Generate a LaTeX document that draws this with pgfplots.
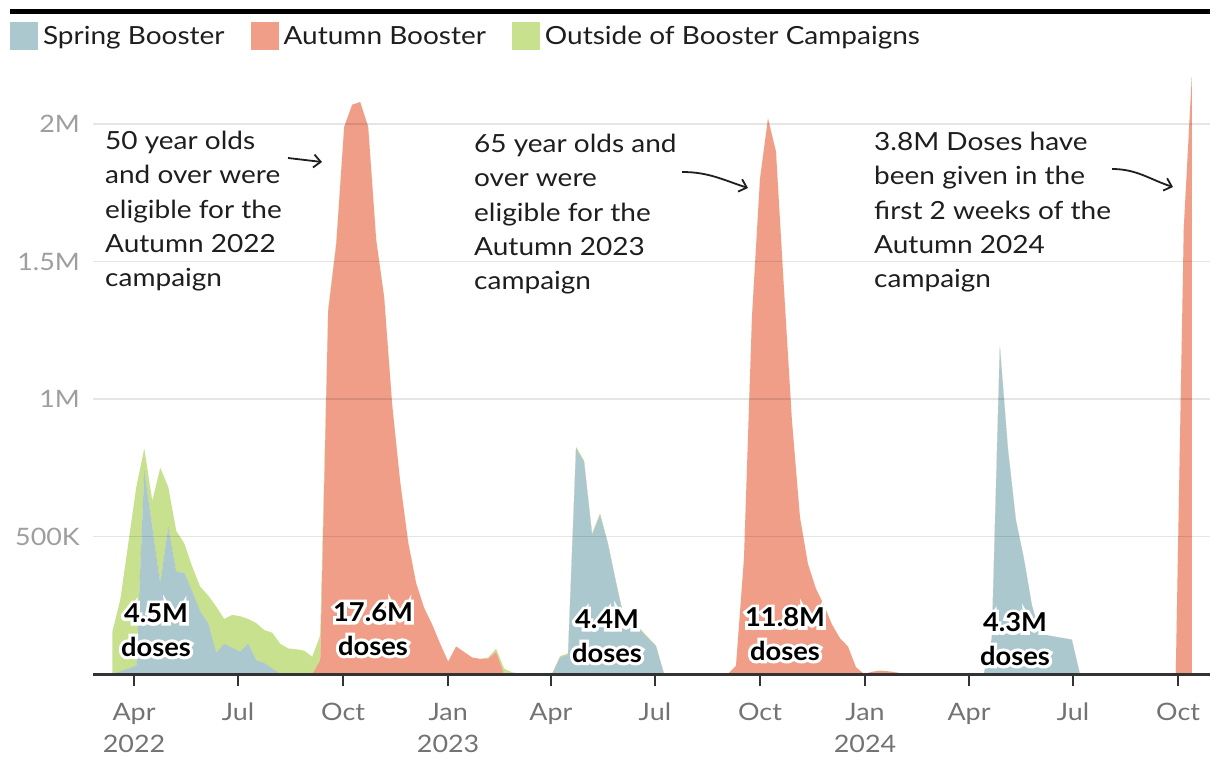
\documentclass[border=0pt]{standalone}
\usepackage{fontspec}
\setmainfont{Lato}[FakeStretch=1.12]
\newfontfamily\lblfont{Lato}[FakeStretch=1.05]
\newfontfamily\halofont{Lato}[FakeStretch=1.05, FakeBold=24]
\usepackage{pgfplots}
\pgfplotsset{compat=1.18}
\usepackage{pgfplotstable}
\usetikzlibrary{arrows.meta}

\definecolor{spring}{RGB}{171,200,207}
\definecolor{autumn}{RGB}{240,158,136}
\definecolor{outside}{RGB}{199,225,143}
\definecolor{txt}{RGB}{30,30,30}

% weekly doses in millions; d = days since 1 Apr 2022
\pgfplotstableread{
d sp au out
-19 0 0 0.153
-12 0.01 0 0.26
-5 0.02 0 0.455
2 0.03 0 0.65
9 0.74 0 0.08
16 0.535 0 0.095
23 0.33 0 0.42
30 0.536 0 0.144
37 0.372 0 0.148
44 0.368 0 0.107
51 0.30 0 0.09
58 0.227 0 0.09
65 0.184 0 0.101
72 0.077 0 0.168
79 0.11 0 0.09
86 0.095 0 0.12
93 0.081 0 0.129
100 0.11 0 0.09
107 0.05 0 0.135
114 0.04 0 0.12
121 0.02 0 0.13
128 0 0 0.11
135 0 0 0.093
142 0 0 0.09
149 0 0 0.085
156 0 0 0.063
163 0 0.05 0.09
170 0 1.32 0.01
177 0 1.56 0.01
184 0 1.99 0
191 0 2.07 0
198 0 2.08 0
205 0 1.99 0
212 0 1.58 0
219 0 1.37 0
226 0 0.98 0
233 0 0.70 0
240 0 0.48 0
247 0 0.33 0
254 0 0.24 0
261 0 0.18 0
268 0 0.11 0
275 0 0.045 0
282 0 0.10 0
289 0 0.08 0
296 0 0.06 0
303 0 0.055 0
310 0 0.055 0.005
317 0 0.08 0.012
324 0 0 0.02
331 0 0 0.006
338 0 0 0.002
345 0 0 0
352 0 0 0
359 0 0 0
366 0 0 0
373 0.06 0 0.005
380 0.07 0 0.005
387 0.82 0 0.006
394 0.77 0 0.006
401 0.505 0 0.006
408 0.578 0 0.006
415 0.47 0 0.005
422 0.33 0 0.005
429 0.20 0 0.005
436 0.16 0 0.004
443 0.16 0 0.004
450 0.13 0 0.004
457 0.10 0 0.003
464 0 0 0
471 0 0 0
478 0 0 0
485 0 0 0
492 0 0 0
499 0 0 0
506 0 0 0
513 0 0 0
520 0 0 0
527 0 0.03 0
534 0 0.42 0
541 0 1.30 0
548 0 1.80 0
555 0 2.02 0
562 0 1.90 0
569 0 1.40 0
576 0 0.92 0
583 0 0.57 0
590 0 0.40 0
597 0 0.31 0
604 0 0.25 0
611 0 0.18 0
618 0 0.13 0
625 0 0.10 0
632 0 0.025 0
639 0 0 0
646 0 0.008 0
653 0 0.012 0
660 0 0.01 0
667 0 0.006 0
674 0 0 0
681 0 0 0
688 0 0 0
695 0 0 0
702 0 0 0
709 0 0 0
716 0 0 0
723 0 0 0
730 0 0 0
737 0 0 0
744 0 0 0
751 0.13 0 0
758 1.19 0 0
765 0.82 0 0
772 0.56 0 0
779 0.42 0 0
786 0.25 0 0
793 0.15 0 0
800 0.14 0 0
807 0.135 0 0
814 0.13 0 0
821 0.125 0 0
828 0 0 0
835 0 0 0
842 0 0 0
849 0 0 0
856 0 0 0
863 0 0 0
870 0 0 0
877 0 0 0
884 0 0 0
891 0 0 0
898 0 0 0
905 0 0 0
912 0 0 0
919 0 1.62 0
926 0 2.17 0
}\doses

\newcommand\total[3]{%
  \node[text=white, font=\halofont\bfseries\fontsize{26}{33.5}\selectfont] at (#1pt,-#2pt) {#3\\doses};
  \node[text=black, font=\lblfont\bfseries\fontsize{26}{33.5}\selectfont] at (#1pt,-#2pt) {#3\\doses};
}

\begin{document}
\begin{tikzpicture}
\useasboundingbox (0pt,0pt) rectangle (1220pt,-778pt);
\draw[line width=5pt, black] (10pt,-12pt) -- (1210pt,-12pt);
\begin{axis}[
  at={(93pt,-674pt)}, anchor=south west,
  scale only axis, width=1117pt, height=605pt,
  xmin=-35.9, xmax=942, ymin=0, ymax=2.2,
  stack plots=y,
  axis on top,
  axis x line*=bottom, axis y line*=left,
  y axis line style={draw=none},
  x axis line style={draw=black!80, line width=3pt},
  xtick={0,91,183,275,365,456,548,640,731,822,914},
  xticklabels={{Apr\\2022},Jul,Oct,{Jan\\2023},Apr,Jul,Oct,{Jan\\2024},Apr,Jul,Oct},
  tick align=outside, major tick length=12pt,
  xtick style={draw=black!80, line width=1.5pt},
  ytick={0.5,1,1.5,2}, yticklabels={500K,1M,1.5M,2M},
  ytick style={draw=none},
  ymajorgrids, grid style={draw=black, opacity=0.1, line width=1.5pt},
  xticklabel style={font=\fontsize{24}{32}\selectfont, text=black!55, align=center, anchor=north, inner sep=0pt, yshift=-17pt},
  yticklabel style={font=\fontsize{24}{28}\selectfont, text=black!38, anchor=east, inner sep=0pt, xshift=-1pt},
  legend columns=3,
  legend style={at={(-0.0743,1.0777)}, anchor=north west, draw=none, fill=none,
    inner sep=0pt, outer sep=0pt,
    font=\fontsize{25}{30}\selectfont,
    nodes={inner sep=0pt, text=txt},
    /tikz/every odd column/.append style={column sep=5pt},
    /tikz/every even column/.append style={column sep=26pt}},
  legend image code/.code={\fill[#1] (0pt,-14pt) rectangle (28pt,14pt);},
]
\addplot[fill=spring, draw=none] table[x=d, y=sp]{\doses} \closedcycle;
\addplot[fill=autumn, draw=none] table[x=d, y=au]{\doses} \closedcycle;
\addplot[fill=outside, draw=none] table[x=d, y=out]{\doses} \closedcycle;
\legend{Spring Booster, Autumn Booster, Outside of Booster Campaigns}
\end{axis}

% annotations
\begin{scope}[every node/.style={anchor=north west, align=left, inner sep=0pt, font=\fontsize{25}{34.3}\selectfont, text=txt}]
\node at (105pt,-131pt) {50 year olds\\and over were\\eligible for the\\Autumn 2022\\campaign};
\node at (474pt,-134pt) {65 year olds and\\over were\\eligible for the\\Autumn 2023\\campaign};
\node at (874pt,-132pt) {3.8M Doses have\\been given in the\\first 2 weeks of the\\Autumn 2024\\campaign};
\end{scope}
\begin{scope}[line width=1.8pt, draw=txt, -{Straight Barb[length=7pt,width=13pt]}]
\draw (288pt,-158pt) -- (322pt,-162pt);
\draw (682pt,-172pt) to[out=0,in=162] (748pt,-188pt);
\draw (1112pt,-169pt) to[out=0,in=162] (1173pt,-187pt);
\end{scope}

% totals
\begin{scope}[every node/.style={align=center, inner sep=0pt}]
\total{156}{630}{4.5M}
\total{373}{629}{17.6M}
\total{607}{636}{4.4M}
\total{785}{634}{11.8M}
\total{1015}{639}{4.3M}
\end{scope}
\end{tikzpicture}
\end{document}
